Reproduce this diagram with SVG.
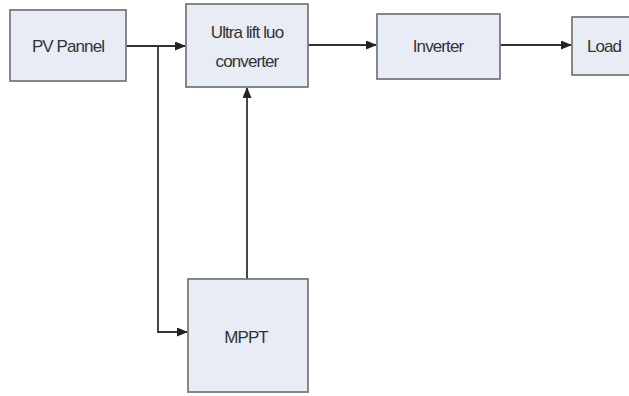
<svg xmlns="http://www.w3.org/2000/svg" width="629" height="396" viewBox="0 0 629 396">
<style>
.box{fill:#e8edf5;stroke:#7a7a7a;stroke-width:1.8}
.lbl{font-family:"Liberation Sans",Arial,sans-serif;font-size:17px;fill:#333;text-anchor:middle;letter-spacing:-0.9px}
.ln{fill:none;stroke:#333;stroke-width:1.8}
</style>
<defs>
<marker id="ah" markerWidth="11" markerHeight="9" refX="10" refY="4.5" orient="auto" markerUnits="userSpaceOnUse">
<path d="M0,0 L11,4.5 L0,9 Z" fill="#222"/>
</marker>
</defs>
<rect width="629" height="396" fill="#fff"/>
<g id="connectors">
<line class="ln" x1="126" y1="46" x2="185" y2="46" marker-end="url(#ah)"/>
<polyline class="ln" points="158,46 158,332 187,332" marker-end="url(#ah)"/>
<line class="ln" x1="247" y1="279" x2="247" y2="88" marker-end="url(#ah)"/>
<line class="ln" x1="308" y1="45" x2="376" y2="45" marker-end="url(#ah)"/>
<line class="ln" x1="500" y1="45" x2="571" y2="45" marker-end="url(#ah)"/>
</g>
<g id="pv">
<rect class="box" x="10" y="10" width="116" height="71"/>
<text class="lbl" x="68" y="52">PV Pannel</text>
</g>
<g id="converter">
<rect class="box" x="186" y="4" width="122" height="83"/>
<text class="lbl" x="247" y="38">Ultra lift luo</text>
<text class="lbl" x="247" y="67">converter</text>
</g>
<g id="inverter">
<rect class="box" x="377" y="14" width="123" height="65"/>
<text class="lbl" x="438" y="52">Inverter</text>
</g>
<g id="load">
<rect class="box" x="572" y="17" width="62" height="58"/>
<text class="lbl" x="604" y="52">Load</text>
</g>
<g id="mppt">
<rect class="box" x="188" y="279" width="120" height="113"/>
<text class="lbl" x="246" y="343">MPPT</text>
</g>
</svg>
